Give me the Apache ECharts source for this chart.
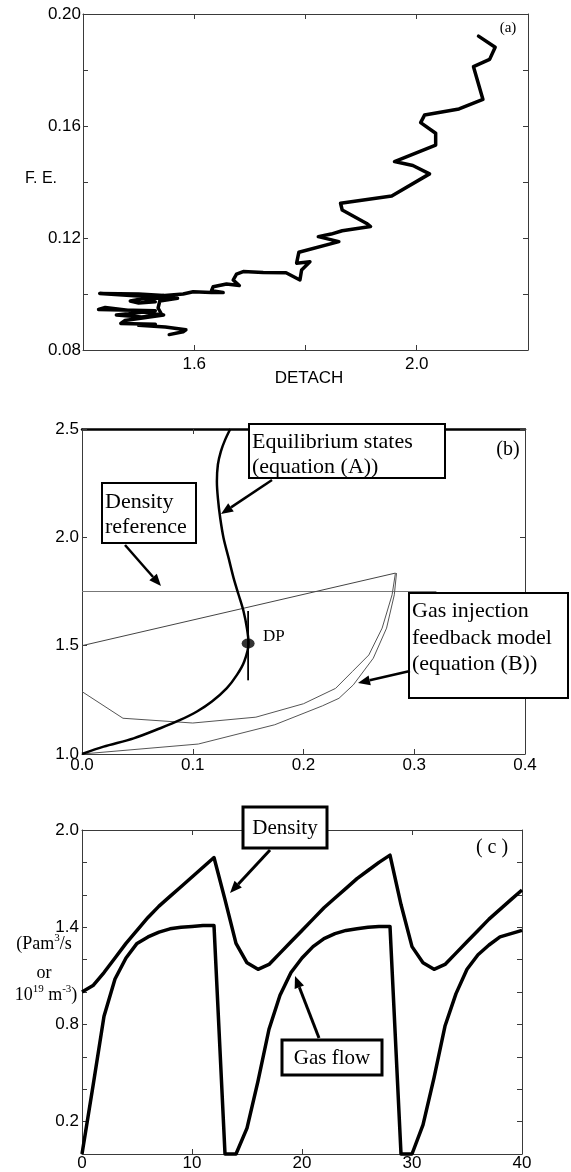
<!DOCTYPE html>
<html>
<head>
<meta charset="utf-8">
<script src="https://cdn.jsdelivr.net/npm/echarts@6/dist/echarts.min.js"></script>
<style>
  html, body { margin: 0; padding: 0; background: #fff; }
  #chart { width: 571px; height: 1172px; }
</style>
</head>
<body>
<div id="chart"></div>
<script>
// ---------- (a) F.E. versus DETACH trajectory ----------
const detach = [2.111, 2.141, 2.131, 2.102, 2.119, 2.076, 2.014, 2.007, 2.034, 2.034,
  1.960, 1.993, 2.023, 1.955, 1.863, 1.866, 1.910, 1.917, 1.866, 1.846,
  1.823, 1.860, 1.788, 1.784, 1.808, 1.793, 1.790, 1.765, 1.724, 1.688,
  1.676, 1.670, 1.681, 1.658, 1.634, 1.631, 1.652, 1.631, 1.598, 1.580,
  1.520, 1.430, 1.500, 1.545, 1.505, 1.485, 1.500, 1.530, 1.505, 1.570,
  1.538, 1.535, 1.542, 1.510, 1.440, 1.428, 1.470, 1.530, 1.460, 1.505,
  1.545, 1.475, 1.468, 1.530, 1.500, 1.548, 1.585, 1.580, 1.555];
const fe = [0.1921, 0.1881, 0.1838, 0.1812, 0.1695, 0.1661, 0.1639, 0.1612, 0.1574, 0.1532,
  0.1473, 0.1459, 0.1429, 0.1350, 0.1324, 0.1300, 0.1252, 0.1241, 0.1226, 0.1214,
  0.1205, 0.1187, 0.1149, 0.1110, 0.1115, 0.1086, 0.1050, 0.1076, 0.1077, 0.1080,
  0.1071, 0.1050, 0.1030, 0.1036, 0.1026, 0.1012, 0.1005, 0.1005, 0.1008, 0.1000,
  0.0990, 0.1002, 0.1000, 0.0995, 0.0982, 0.0975, 0.0968, 0.0972, 0.0985, 0.0985,
  0.0975, 0.0950, 0.0925, 0.0935, 0.0952, 0.0945, 0.0943, 0.0940, 0.0925, 0.0918,
  0.0925, 0.0905, 0.0895, 0.0892, 0.0888, 0.0882, 0.0872, 0.0865, 0.0855];
const aXLabels = ['1.6', '2.0'];
const aYLabels = ['0.08', '0.12', '0.16', '0.20'];

// ---------- (b) equilibrium states and gas injection feedback model ----------
const eqX = [0, 0.0195, 0.0466, 0.0707, 0.0887, 0.1038, 0.1173, 0.1308, 0.1399, 0.1465,
  0.1504, 0.1489, 0.1459, 0.1414, 0.1369, 0.1324, 0.1278, 0.1248, 0.1227, 0.1218,
  0.1227, 0.1254, 0.1293, 0.1339];
const eqY = [1.0, 1.034, 1.072, 1.119, 1.157, 1.196, 1.242, 1.304, 1.365, 1.427,
  1.511, 1.581, 1.658, 1.735, 1.812, 1.904, 1.997, 2.089, 2.181, 2.258,
  2.336, 2.397, 2.451, 2.5];
const dpPoint = [0.15, 1.51];
const dpBarX = [0.15, 0.15];
const dpBarY = [1.34, 1.66];
const refX = [0, 0.32];
const refY = [1.75, 1.75];
const rampX = [0, 0.283];
const rampY = [1.5, 1.835];
const feedUpperX = [0, 0.037, 0.1, 0.157, 0.2, 0.229, 0.244, 0.259, 0.271, 0.28, 0.283];
const feedUpperY = [1.288, 1.165, 1.143, 1.17, 1.232, 1.303, 1.38, 1.457, 1.581, 1.735, 1.835];
const feedLowerX = [0, 0.105, 0.174, 0.217, 0.232, 0.245, 0.263, 0.275, 0.282, 0.284];
const feedLowerY = [1.0, 1.046, 1.135, 1.222, 1.257, 1.319, 1.442, 1.581, 1.735, 1.835];

// ---------- (c) density and gas flow versus time ----------
const time = [0, 1, 2, 3, 4, 5, 6, 7, 8, 9, 10, 11, 12, 13, 14, 15, 16, 17, 18, 19, 20,
  21, 22, 23, 24, 25, 26, 27, 28, 29, 30, 31, 32, 33, 34, 35, 36, 37, 38, 39, 40];
const density = [1.00, 1.04, 1.12, 1.21, 1.30, 1.38, 1.46, 1.53, 1.59, 1.65, 1.71,
  1.77, 1.83, 1.57, 1.30, 1.18, 1.14, 1.17, 1.24, 1.31, 1.38,
  1.45, 1.52, 1.58, 1.64, 1.70, 1.75, 1.80, 1.845, 1.54, 1.28,
  1.18, 1.14, 1.17, 1.24, 1.31, 1.38, 1.45, 1.51, 1.57, 1.63];
const gasFlow = [0, 0.42, 0.85, 1.08, 1.21, 1.30, 1.34, 1.37, 1.39, 1.40, 1.405,
  1.41, 1.41, 0, 0, 0.16, 0.45, 0.77, 0.98, 1.12, 1.21,
  1.28, 1.33, 1.36, 1.38, 1.39, 1.40, 1.405, 1.405, 0, 0,
  0.18, 0.47, 0.79, 0.99, 1.14, 1.23, 1.29, 1.34, 1.36, 1.38];
const cYLabels = ['0.2', '0.8', '1.4', '2.0'];

// ---------- helpers ----------
const zip = (xs, ys) => xs.map((x, i) => [x, ys[i]]);
const SANS = '"Liberation Sans", Arial, sans-serif';
const SERIF = '"Liberation Serif", "Times New Roman", serif';
const AXIS_COLOR = '#3a3a3a';

function mainAxis(gridIndex, position, min, max, interval, formatter, margin, lineOpts) {
  return {
    type: 'value', gridIndex, position, min, max, interval,
    axisLine: { show: true, onZero: false, lineStyle: Object.assign({ color: AXIS_COLOR, width: 1 }, lineOpts || {}) },
    axisTick: { show: true, inside: true, length: 5, lineStyle: { color: AXIS_COLOR } },
    axisLabel: { show: !!formatter, formatter, margin, color: '#000', fontSize: 17, fontFamily: SANS },
    splitLine: { show: false }
  };
}

function labelFrom(list, digits) {
  return v => { const s = v.toFixed(digits); return list.includes(s) ? s : ''; };
}

function arrow(x1, y1, x2, y2, w) {
  const ang = Math.atan2(y2 - y1, x2 - x1);
  const hl = 12, hw = 5;
  const bx = x2 - hl * Math.cos(ang), by = y2 - hl * Math.sin(ang);
  const nx = -Math.sin(ang), ny = Math.cos(ang);
  return [
    { type: 'line', z: 100, shape: { x1, y1, x2: bx, y2: by }, style: { stroke: '#000', lineWidth: w } },
    { type: 'polygon', z: 100, shape: { points: [[x2, y2], [bx + nx * hw, by + ny * hw], [bx - nx * hw, by - ny * hw]] }, style: { fill: '#000' } }
  ];
}

function box(x, y, w, h, lw) {
  return { type: 'rect', z: 100, shape: { x, y, width: w, height: h }, style: { fill: '#fff', stroke: '#000', lineWidth: lw } };
}

function txt(x, y, text, size, align, family) {
  return { type: 'text', z: 101, x, y, style: { text, fontSize: size, fontFamily: family || SERIF, fill: '#000', align: align || 'left', verticalAlign: 'middle' } };
}

const supRich = {
  n: { fontSize: 18, fontFamily: SERIF, lineHeight: 20, verticalAlign: 'bottom', fill: '#000' },
  s: { fontSize: 11, fontFamily: SERIF, lineHeight: 11, verticalAlign: 'top', fill: '#000' }
};
function richTxt(x, y, text) {
  return { type: 'text', z: 101, x, y, style: { text, rich: supRich, align: 'center', verticalAlign: 'middle' } };
}

const thinLine = (color, width) => ({ color, width });

const option = {
  animation: false,
  backgroundColor: '#fff',
  grid: [
    { left: 83, top: 14, width: 445, height: 336 },
    { left: 82, top: 429, width: 443, height: 325 },
    { left: 82, top: 830, width: 440, height: 324 }
  ],
  xAxis: [
    mainAxis(0, 'bottom', 1.4, 2.2, 0.2, labelFrom(aXLabels, 1), 6),
    mainAxis(0, 'top', 1.4, 2.2, 0.2, null),
    mainAxis(1, 'bottom', 0, 0.4, 0.1, v => v.toFixed(1), 3),
    mainAxis(1, 'top', 0, 0.4, 0.1, null, 0, { color: '#000', width: 2.5 }),
    mainAxis(2, 'bottom', 0, 40, 10, v => String(v), 1),
    mainAxis(2, 'top', 0, 40, 10, null)
  ],
  yAxis: [
    mainAxis(0, 'left', 0.08, 0.20, 0.02, labelFrom(aYLabels, 2), 2),
    mainAxis(0, 'right', 0.08, 0.20, 0.02, null),
    mainAxis(1, 'left', 1.0, 2.5, 0.5, v => v.toFixed(1), 3),
    mainAxis(1, 'right', 1.0, 2.5, 0.5, null),
    mainAxis(2, 'left', 0, 2.0, 0.2, labelFrom(cYLabels, 1), 3),
    mainAxis(2, 'right', 0, 2.0, 0.2, null)
  ],
  series: [
    // (a)
    { type: 'line', xAxisIndex: 0, yAxisIndex: 0, data: zip(detach, fe), showSymbol: false, symbol: 'none',
      lineStyle: { color: '#000', width: 3.5, join: 'round', cap: 'round' } },
    // (b) density reference level
    { type: 'line', xAxisIndex: 2, yAxisIndex: 2, data: zip(refX, refY), symbol: 'none', lineStyle: thinLine('#777', 1) },
    // (b) feedback model trajectory
    { type: 'line', xAxisIndex: 2, yAxisIndex: 2, data: zip(rampX, rampY), symbol: 'none', lineStyle: thinLine('#444', 1) },
    { type: 'line', xAxisIndex: 2, yAxisIndex: 2, data: zip(feedUpperX, feedUpperY), symbol: 'none', lineStyle: thinLine('#555', 1) },
    { type: 'line', xAxisIndex: 2, yAxisIndex: 2, data: zip(feedLowerX, feedLowerY), symbol: 'none', lineStyle: thinLine('#555', 1) },
    // (b) equilibrium states
    { type: 'line', xAxisIndex: 2, yAxisIndex: 2, data: zip(eqX, eqY), symbol: 'none', smooth: 0.3,
      lineStyle: { color: '#000', width: 2.5 } },
    { type: 'line', xAxisIndex: 2, yAxisIndex: 2, data: zip(dpBarX, dpBarY), symbol: 'none', lineStyle: { color: '#000', width: 1.8 } },
    { type: 'scatter', xAxisIndex: 2, yAxisIndex: 2, data: [dpPoint], symbol: 'circle', symbolSize: [13, 10],
      itemStyle: { color: '#000' }, z: 5 },
    // (c)
    { type: 'line', xAxisIndex: 4, yAxisIndex: 4, data: zip(time, density), symbol: 'none', clip: false,
      lineStyle: { color: '#000', width: 3.5, join: 'round' } },
    { type: 'line', xAxisIndex: 4, yAxisIndex: 4, data: zip(time, gasFlow), symbol: 'none', clip: false,
      lineStyle: { color: '#000', width: 3.5, join: 'round' } }
  ],
  graphic: [
    // (a) labels
    txt(508, 28, '(a)', 15, 'center'),
    txt(25, 179, 'F. E.', 16, 'left', SANS),
    txt(309, 378, 'DETACH', 17, 'center', SANS),
    // (b) annotations
    txt(508, 450, '(b)', 20, 'center'),
    txt(263, 637, 'DP', 17, 'left'),
    box(249, 424, 196, 54, 2),
    txt(252, 442, 'Equilibrium states', 22),
    txt(252, 467, '(equation (A))', 22),
    ...arrow(272, 480, 221, 514, 2.5),
    box(102, 483, 94, 60, 2),
    txt(105, 502, 'Density', 22),
    txt(105, 527, 'reference', 22),
    ...arrow(125, 545, 161, 586, 2.5),
    box(409, 593, 159, 105, 2),
    txt(412, 611, 'Gas injection', 22),
    txt(412, 638, 'feedback model', 22),
    txt(412, 664, '(equation (B))', 22),
    ...arrow(410, 671, 358, 683, 2.5),
    // (c) annotations
    txt(492, 848, '( c )', 20, 'center'),
    box(243, 807, 84, 41, 3),
    txt(285, 828, 'Density', 21, 'center'),
    ...arrow(270, 850, 230, 893, 3),
    box(282, 1040, 100, 35, 3),
    txt(332, 1058, 'Gas flow', 21, 'center'),
    ...arrow(319, 1038, 295, 976, 3),
    richTxt(44, 943, '{n|(Pam}{s|3}{n|/s}'),
    richTxt(44, 972, '{n|or}'),
    richTxt(46, 994, '{n|10}{s|19}{n| m}{s|-3}{n|)}')
  ]
};

const chart = echarts.init(document.getElementById('chart'), null, { renderer: 'canvas' });
chart.setOption(option);
</script>
</body>
</html>
